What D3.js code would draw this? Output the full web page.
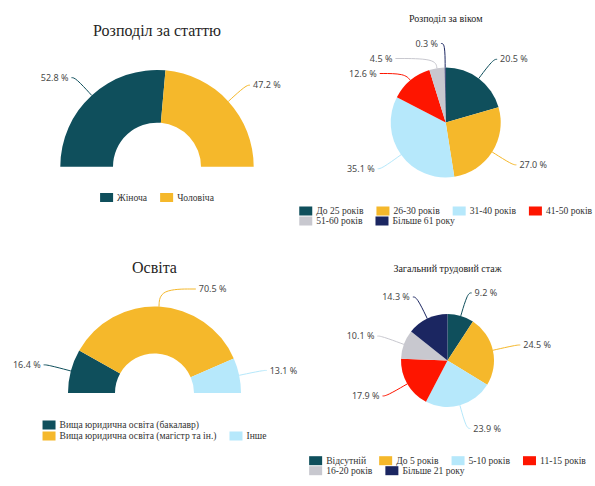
<!DOCTYPE html>
<html>
<head>
  <meta charset="utf-8">
  <style>
    body { margin: 0; background: #fff; }
    svg { display: block; }
    .title { font-family: "Liberation Serif", serif; fill: #252423; }
    .legend text { font-family: "Liberation Serif", serif; font-size: 9.6px; fill: #333; }
    .pct { font-family: "Noto Sans", sans-serif; font-size: 9px; fill: #4a4a4a; }
  </style>
</head>
<body>
  <script src="https://d3js.org/d3.v7.min.js"></script>
  <script>
    const colors = ["#0f4f5c", "#f5b82b", "#b6e8fb", "#fe1500", "#c8c8cf", "#1b2661"];

    // Розподіл за статтю
    const genderCats = ["Жіноча", "Чоловіча"];
    const genderVals = [52.8, 47.2];

    // Розподіл за віком
    const ageCats = ["До 25 років", "26-30 років", "31-40 років", "41-50 років", "51-60 років", "Більше 61 року"];
    const ageVals = [20.5, 27.0, 35.1, 12.6, 4.5, 0.3];

    // Освіта
    const eduCats = ["Вища юридична освіта (бакалавр)", "Вища юридична освіта (магістр та ін.)", "Інше"];
    const eduVals = [16.4, 70.5, 13.1];

    // Загальний трудовий стаж
    const expCats = ["Відсутній", "До 5 років", "5-10 років", "11-15 років", "16-20 років", "Більше 21 року"];
    const expVals = [9.2, 24.5, 23.9, 17.9, 10.1, 14.3];

    const width = 595, height = 486;

    const svg = d3.select('body')
      .append('svg')
      .attr('width', width)
      .attr('height', height);

    function drawChart(cfg) {
      const { cats, vals, cx, cy, r, inner, half } = cfg;
      const color = d3.scaleOrdinal().domain(cats).range(colors);

      // title
      svg.append('text')
        .attr('class', 'title')
        .attr('x', cx)
        .attr('y', cfg.titleY)
        .attr('text-anchor', 'middle')
        .style('font-size', cfg.titleSize + 'px')
        .text(cfg.title);

      const pie = d3.pie().sort(null).value(d => d.v);
      if (half) pie.startAngle(-Math.PI / 2).endAngle(Math.PI / 2);
      const arcs = pie(cats.map((c, i) => ({ c, v: vals[i] })));
      const arc = d3.arc().innerRadius(inner).outerRadius(r);

      const g = svg.append('g').attr('transform', `translate(${cx},${cy})`);

      g.selectAll('path.slice')
        .data(arcs)
        .enter()
        .append('path')
        .attr('class', 'slice')
        .attr('d', arc)
        .attr('fill', d => color(d.data.c));

      // label layout: on a circle of radius R, pushed apart per side
      const R = r + 24;
      const gap = 15;
      const topY = cfg.titleY + 16 - cy;
      const items = arcs.map(a => {
        const m = (a.startAngle + a.endAngle) / 2;
        return { a, m, side: Math.sin(m) >= 0 ? 1 : -1, y: Math.max(-R * Math.cos(m), topY) };
      });
      [1, -1].forEach(s => {
        const list = items.filter(it => it.side === s).sort((p, q) => p.y - q.y);
        for (let i = 1; i < list.length; i++) {
          if (list[i].y < list[i - 1].y + gap) list[i].y = list[i - 1].y + gap;
        }
      });
      items.forEach(it => {
        it.x = it.side * Math.sqrt(Math.max(0, R * R - it.y * it.y));
        const ux = Math.sin(it.m), uy = -Math.cos(it.m);
        const p0 = [r * ux, r * uy];
        let t = Math.abs(uy) > 0.2 ? (it.y - p0[1]) / uy : 10;
        t = Math.max(3, Math.min(t, R - r + 6));
        const p1 = [p0[0] + t * ux, p0[1] + t * uy];
        const p2 = [it.x + it.side * 4, it.y];
        it.pts = [p0, p1, p2];
      });

      const line = d3.line().curve(d3.curveBasis);
      g.selectAll('path.leader')
        .data(items)
        .enter()
        .append('path')
        .attr('class', 'leader')
        .attr('d', d => line(d.pts))
        .attr('fill', 'none')
        .attr('stroke', d => color(d.a.data.c))
        .attr('stroke-width', 1);

      g.selectAll('text.pct')
        .data(items)
        .enter()
        .append('text')
        .attr('class', 'pct')
        .attr('x', d => d.x + d.side * 7)
        .attr('y', d => d.y)
        .attr('dy', '0.35em')
        .attr('text-anchor', d => d.side > 0 ? 'start' : 'end')
        .text(d => d3.format('.1f')(d.a.data.v) + ' %');

      // legend, flowing rows centred under the chart
      const lg = svg.append('g').attr('class', 'legend');
      const maxW = 300, sw = 13, sh = 9, itemGap = 13;
      const entries = cats.map(c => {
        const e = lg.append('g');
        e.append('rect').attr('width', sw).attr('height', sh).attr('y', -sh / 2).attr('fill', color(c));
        const t = e.append('text').attr('x', sw + 4).attr('dy', '0.35em').text(c);
        return { e, w: sw + 4 + t.node().getComputedTextLength() };
      });
      const rows = [[]];
      let rowW = 0;
      entries.forEach(en => {
        const add = (rows[rows.length - 1].length ? itemGap : 0) + en.w;
        if (rows[rows.length - 1].length && rowW + add > maxW) {
          rows.push([en]);
          rowW = en.w;
        } else {
          rows[rows.length - 1].push(en);
          rowW += add;
        }
      });
      const rowWidths = rows.map(row => d3.sum(row, en => en.w) + itemGap * (row.length - 1));
      const left = cx - d3.max(rowWidths) / 2;
      rows.forEach((row, ri) => {
        let x = left;
        row.forEach(en => {
          en.e.attr('transform', `translate(${x},${cfg.legendY + ri * cfg.rowH})`);
          x += en.w + itemGap;
        });
      });
    }

    drawChart({ title: 'Розподіл за статтю', titleSize: 16, titleY: 36,
      cats: genderCats, vals: genderVals, cx: 157, cy: 166.7, r: 96.7, inner: 44, half: true,
      legendY: 197.5, rowH: 10.5 });

    drawChart({ title: 'Розподіл за віком', titleSize: 10, titleY: 22,
      cats: ageCats, vals: ageVals, cx: 445.7, cy: 122.5, r: 55, inner: 0, half: false,
      legendY: 211, rowH: 10 });

    drawChart({ title: 'Освіта', titleSize: 16, titleY: 273,
      cats: eduCats, vals: eduVals, cx: 154.5, cy: 393, r: 86.5, inner: 39.5, half: true,
      legendY: 425, rowH: 11 });

    drawChart({ title: 'Загальний трудовий стаж', titleSize: 10, titleY: 272,
      cats: expCats, vals: expVals, cx: 447.5, cy: 360.5, r: 46.5, inner: 0, half: false,
      legendY: 460.7, rowH: 10 });
  </script>
</body>
</html>
